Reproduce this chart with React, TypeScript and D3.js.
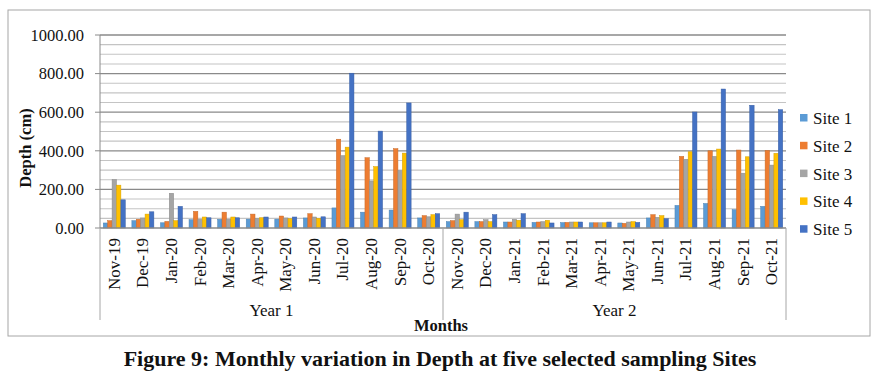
import React from "react";
import * as d3 from "d3";

const months = ["Nov-19","Dec-19","Jan-20","Feb-20","Mar-20","Apr-20","May-20","Jun-20","Jul-20","Aug-20","Sep-20","Oct-20",
  "Nov-20","Dec-20","Jan-21","Feb-21","Mar-21","Apr-21","May-21","Jun-21","Jul-21","Aug-21","Sep-21","Oct-21"];
const years = ["Year 1", "Year 2"];
const sites = ["Site 1","Site 2","Site 3","Site 4","Site 5"];
const site1 = [26,38,27,43,45,46,46,52,104,82,93,52, 33,33,31,29,28,27,26,52,117,127,95,112];
const site2 = [38,45,34,86,82,72,62,74,460,364,411,64, 38,33,31,31,29,27,24,69,371,400,404,402];
const site3 = [251,52,180,45,45,48,52,57,375,244,297,58, 72,43,45,33,31,27,31,55,356,371,284,326];
const site4 = [222,72,38,57,57,53,48,50,419,318,388,69, 43,33,40,40,31,27,33,64,395,409,369,387];
const site5 = [146,84,112,53,53,57,57,58,802,502,648,74, 82,69,74,26,31,31,29,48,601,720,636,613];
const yTicks = [0,200,400,600,800,1000];
const colors = ["#5B9BD5","#ED7D31","#A5A5A5","#FFC000","#4472C4"];
const series = [site1, site2, site3, site4, site5];

const FONT = "'Liberation Serif', 'Times New Roman', serif";

export default function App() {
  const W = 881, H = 376;
  const left = 100, right = 786, top = 35, zero = 228;
  const x = d3.scaleBand<string>().domain(months).range([left, right]);
  const bw = x.bandwidth();
  const gap = bw * 1.5 / 6.5;
  const x1 = d3.scaleBand<string>().domain(sites).range([gap / 2, bw - gap / 2]);
  const y = d3.scaleLinear().domain([0, 1000]).range([zero, top]);
  const minor = d3.range(50, 1001, 50);
  const yearX = d3.scaleBand<string>().domain(years).range([left, right]);

  return (
    <div style={{ position: "absolute", left: 0, top: 0 }}>
      <svg width={W} height={H} style={{ display: "block", background: "#fff" }}>
        <rect x={8} y={10} width={862} height={326} fill="#fff" stroke="#a6a6a6" strokeWidth={1} />
        {minor.map((v) => (
          <line key={v} x1={left} x2={right} y1={y(v)} y2={y(v)}
            stroke={v % 200 === 0 ? "#8a8a8a" : "#c4c4c4"} strokeWidth={v % 200 === 0 ? 1.3 : 1.1} />
        ))}
        {series.map((vals, si) => (
          <g key={si}>
            {months.map((m, i) => {
              const bx = (x(m) as number) + (x1(sites[si]) as number);
              const c = d3.color(colors[si])!.darker(0.5).toString();
              return (
                <rect key={m} x={bx} y={y(vals[i])} width={x1.bandwidth()} height={zero - y(vals[i])}
                  fill={colors[si]} stroke={c} strokeWidth={0.5} />
              );
            })}
          </g>
        ))}
        <line x1={left} x2={right} y1={zero} y2={zero} stroke="#8a8a8a" strokeWidth={1.5} />
        <line x1={left} x2={left} y1={top} y2={zero} stroke="#8a8a8a" strokeWidth={1} />
        {yTicks.map((t) => (
          <g key={t}>
            <line x1={left - 5} x2={left} y1={y(t)} y2={y(t)} stroke="#8a8a8a" />
            <text x={84} y={y(t)} dy="0.35em" textAnchor="end" fontFamily={FONT} fontSize={16.5} fill="#111">
              {t.toFixed(2)}
            </text>
          </g>
        ))}
        <text transform={`translate(25,148) rotate(-90)`} textAnchor="middle" fontFamily={FONT}
          fontSize={16.5} fontWeight="bold" dominantBaseline="central" fill="#111">Depth (cm)</text>
        {months.map((m) => (
          <text key={m} transform={`translate(${(x(m) as number) + bw / 2},238) rotate(-90)`} textAnchor="end"
            dominantBaseline="central" fontFamily={FONT} fontSize={17} fill="#111">{m}</text>
        ))}
        {[left, left + (right - left) / 2, right].map((lx, i) => (
          <line key={i} x1={lx} x2={lx} y1={zero} y2={320} stroke="#a6a6a6" strokeWidth={1} />
        ))}
        {years.map((yr) => (
          <text key={yr} x={(yearX(yr) as number) + yearX.bandwidth() / 2} y={316} textAnchor="middle"
            fontFamily={FONT} fontSize={17} fill="#111">{yr}</text>
        ))}
        <text x={441} y={331} textAnchor="middle" fontFamily={FONT} fontSize={16.5} fontWeight="bold" fill="#111">Months</text>
        {sites.map((s, i) => (
          <g key={s} transform={`translate(800,${118 + i * 27.8})`}>
            <rect x={0} y={-4} width={7.5} height={7.5} fill={colors[i]} />
            <text x={13} y={0} dy="0.35em" fontFamily={FONT} fontSize={17} fill="#111">{s}</text>
          </g>
        ))}
        <text x={440} y={366} textAnchor="middle" fontFamily={FONT} fontSize={22} fontWeight="bold" fill="#111">
          Figure 9: Monthly variation in Depth at five selected sampling Sites
        </text>
      </svg>
    </div>
  );
}
